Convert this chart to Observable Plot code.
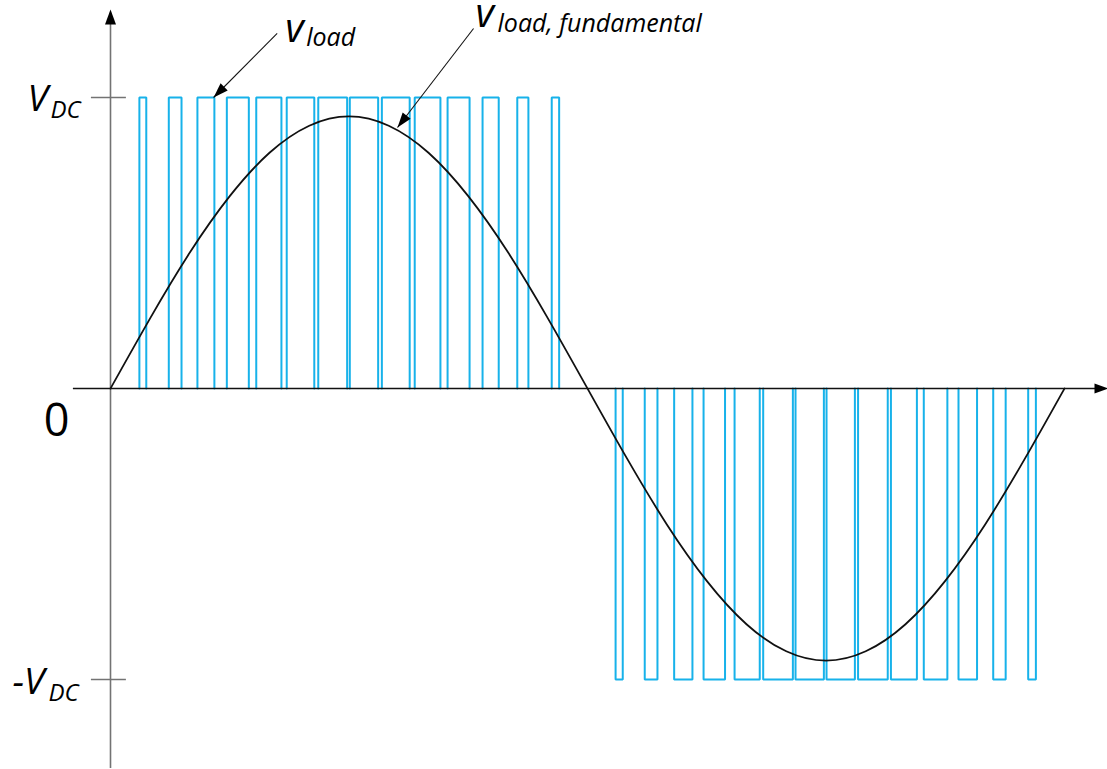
<!DOCTYPE html>
<html>
<head>
<meta charset="utf-8">
<script src="https://cdn.jsdelivr.net/npm/d3@7"></script>
<script src="https://cdn.jsdelivr.net/npm/@observablehq/plot@0.6"></script>
<style>
  html, body { margin: 0; padding: 0; background: #fff; }
  #chart svg { display: block; }
</style>
</head>
<body>
<div id="chart"></div>
<script>
// Electrical angle in degrees over one fundamental period; output normalised to V_DC = 1.
const VDC = 1;

// Switching instants (degrees) of the pulses in the positive half cycle
const posOn  = [10.9, 22.0, 32.8, 43.9, 55.0, 66.5, 78.4, 90.3, 102.4, 114.8, 127.2, 140.4, 153.5, 166.5];
const posOff = [13.5, 26.8, 39.2, 52.2, 64.5, 76.9, 89.3, 101.0, 112.9, 124.5, 135.5, 146.5, 157.7, 169.3];

// Switching instants (degrees) of the pulses in the negative half cycle
const negOn  = [190.6, 201.6, 212.7, 223.8, 235.5, 246.3, 258.5, 270.2, 282.1, 294.5, 306.9, 320.0, 333.1, 346.3];
const negOff = [193.3, 206.4, 219.6, 231.9, 245.0, 257.5, 269.2, 280.9, 293.3, 304.3, 315.8, 327.0, 337.8, 349.2];

// Fundamental component of the load voltage, sampled every 15°
const fundAngle = [0, 15, 30, 45, 60, 75, 90, 105, 120, 135, 150, 165, 180,
                   195, 210, 225, 240, 255, 270, 285, 300, 315, 330, 345, 360];
const fundValue = [0, 0.242, 0.468, 0.661, 0.810, 0.903, 0.935, 0.903, 0.810, 0.661, 0.468, 0.242, 0,
                   -0.242, -0.468, -0.661, -0.810, -0.903, -0.935, -0.903, -0.810, -0.661, -0.468, -0.242, 0];

// Tick values on the vertical axis
const yTicks = [VDC, -VDC];

// Build open-bottomed rectangles (rise, top, fall) for each pulse
const pulses = [];
posOn.forEach((t, i) => {
  const id = "p" + i;
  pulses.push({t, v: 0, id}, {t, v: VDC, id}, {t: posOff[i], v: VDC, id}, {t: posOff[i], v: 0, id});
});
negOn.forEach((t, i) => {
  const id = "n" + i;
  pulses.push({t, v: 0, id}, {t, v: -VDC, id}, {t: negOff[i], v: -VDC, id}, {t: negOff[i], v: 0, id});
});
const fundamental = fundAngle.map((a, i) => ({a, v: fundValue[i]}));

// Layout
const W = 1107, H = 769;
const mL = 110, mR = 43, mT = 97, mB = 90;
const kx = (W - mL - mR) / 360;      // px per degree
const ky = (H - mT - mB) / (2 * VDC); // px per volt unit

// Annotation pointers: label anchor -> pointed location
const pointers = [
  {x1: 62.9, y1: 1.22, x2: 38.9, y2: VDC},
  {x1: 137.0, y1: 1.237, x2: 108.3, y2: 0.897}
];
pointers.forEach(p => {
  const dx = (p.x2 - p.x1) * kx, dy = -(p.y2 - p.y1) * ky;
  p.rot = Math.atan2(dx, -dy) * 180 / Math.PI;
});

const blue = "#17b2ea";
const font = "'Open Sans', 'DejaVu Sans', sans-serif";

const chart = Plot.plot({
  width: W, height: H,
  marginLeft: mL, marginRight: mR, marginTop: mT, marginBottom: mB,
  style: {background: "#fff", fontFamily: font, overflow: "visible"},
  x: {domain: [0, 360], axis: null},
  y: {domain: [-VDC, VDC], axis: null},
  marks: [
    // switched load voltage
    Plot.line(pulses, {x: "t", y: "v", z: "id", stroke: blue, strokeWidth: 2, strokeLinejoin: "miter", curve: "linear"}),
    // vertical axis with arrowhead
    Plot.ruleX([0], {y1: -1.306, y2: 1.26, stroke: "#737373", strokeWidth: 1.6}),
    Plot.vector([0], {x: 0, y: 1.302, rotate: 0, length: 15, r: 5.5, shape: "spike", anchor: "end", fill: "black", fillOpacity: 1, stroke: "none"}),
    // ticks at ±V_DC
    Plot.ruleY(yTicks, {y: d => d, x1: -7.2, x2: 6.0, stroke: "#737373", strokeWidth: 1.4}),
    // fundamental component
    Plot.line(fundamental, {x: "a", y: "v", stroke: "#111", strokeWidth: 1.8, curve: "natural"}),
    // horizontal (time) axis with arrowhead
    Plot.ruleY([0], {x1: -14, x2: 372, stroke: "#111", strokeWidth: 1.5}),
    Plot.vector([0], {x: 376.6, y: 0, rotate: 90, length: 14, r: 5, shape: "spike", anchor: "end", fill: "black", fillOpacity: 1, stroke: "none"}),
    // pointers to the two waveforms
    Plot.link(pointers, {x1: "x1", y1: "y1", x2: "x2", y2: "y2", stroke: "#111", strokeWidth: 1.1}),
    Plot.vector(pointers, {x: "x2", y: "y2", rotate: "rot", length: 15, r: 5, shape: "spike", anchor: "end", fill: "black", fillOpacity: 1, stroke: "none"}),
    // axis labels
    Plot.text([VDC], {x: 0, y: d => d, text: () => "V", dx: -83, dy: 13, textAnchor: "start", lineAnchor: "bottom", fontSize: 37, fontStyle: "italic", fill: "black"}),
    Plot.text([VDC], {x: 0, y: d => d, text: () => "DC", dx: -60, dy: 20, textAnchor: "start", lineAnchor: "bottom", fontSize: 24, fontStyle: "italic", fill: "black"}),
    Plot.text([-VDC], {x: 0, y: d => d, text: () => "-V", dx: -98, dy: 14, textAnchor: "start", lineAnchor: "bottom", fontSize: 37, fontStyle: "italic", fill: "black"}),
    Plot.text([-VDC], {x: 0, y: d => d, text: () => "DC", dx: -62, dy: 21, textAnchor: "start", lineAnchor: "bottom", fontSize: 24, fontStyle: "italic", fill: "black"}),
    Plot.text([0], {x: 0, y: d => d, text: () => "0", dx: -54, dy: 47, textAnchor: "middle", lineAnchor: "bottom", fontSize: 45, fill: "black"}),
    // waveform labels
    Plot.text([pointers[0]], {x: "x1", y: "y1", text: () => "v", dx: 8, dy: 9, textAnchor: "start", lineAnchor: "bottom", fontSize: 40, fontStyle: "italic", fill: "black"}),
    Plot.text([pointers[0]], {x: "x1", y: "y1", text: () => "load", dx: 29, dy: 13, textAnchor: "start", lineAnchor: "bottom", fontSize: 25, fontStyle: "italic", fill: "black"}),
    Plot.text([pointers[1]], {x: "x1", y: "y1", text: () => "v", dx: 2, dy: -2, textAnchor: "start", lineAnchor: "bottom", fontSize: 40, fontStyle: "italic", fill: "black"}),
    Plot.text([pointers[1]], {x: "x1", y: "y1", text: () => "load, fundamental", dx: 24, dy: 3, textAnchor: "start", lineAnchor: "bottom", fontSize: 25, fontStyle: "italic", fill: "black"})
  ]
});

document.getElementById("chart").appendChild(chart);
</script>
</body>
</html>
